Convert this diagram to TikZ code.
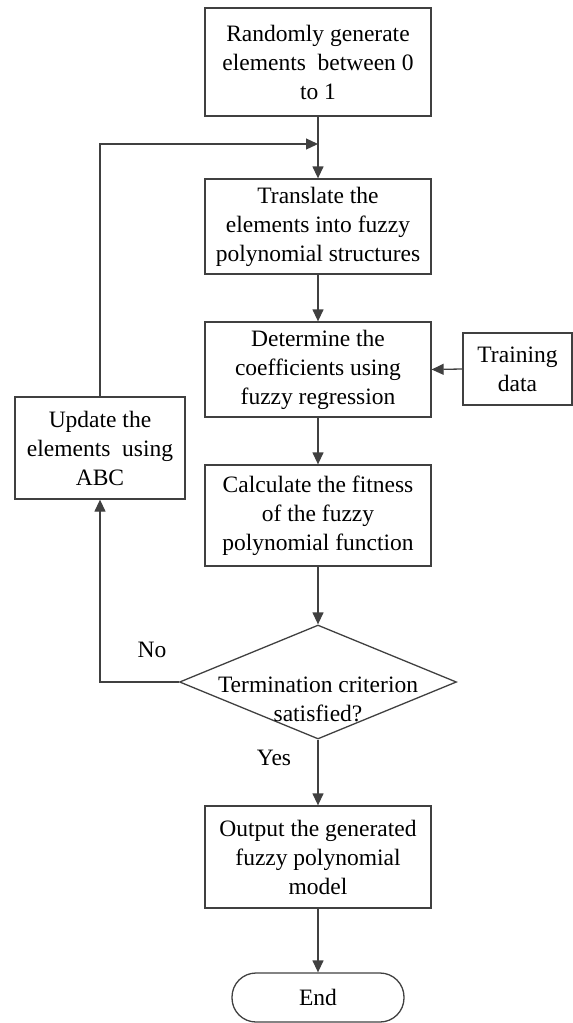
\documentclass[tikz,border=0pt]{standalone}
\usepackage{fontspec}
\setmainfont{Liberation Serif}
\usetikzlibrary{arrows.meta,shapes.geometric}
\begin{document}
\begin{tikzpicture}[x=1pt,y=-1pt,
  font=\fontsize{23.5}{29}\selectfont,
  box/.style={draw=black!75, line width=1.3pt, rectangle, inner sep=0pt, align=center, text=black},
  conn/.style={draw=black!75, line width=1.3pt, -{Triangle[length=12pt,width=11pt]}},
  lbl/.style={inner sep=0pt, text=black},
]
\useasboundingbox (0,0) rectangle (573,1023);
\node[box, minimum width=226pt, minimum height=108pt] (b1) at (318,62) {Randomly generate\\elements\ \ between 0\\to 1};
\node[box, minimum width=226pt, minimum height=95pt] (b2) at (318,226.5) {Translate the\\elements into fuzzy\\polynomial structures};
\node[box, minimum width=226pt, minimum height=95pt] (b3) at (318,369.5) {Determine the\\coefficients using\\fuzzy regression};
\node[box, minimum width=109pt, minimum height=72pt] (train) at (517.5,369) {Training\\data};
\node[box, minimum width=226pt, minimum height=101pt] (b4) at (318,515.5) {Calculate the fitness\\of the fuzzy\\polynomial function};
\node[box, shape=diamond, minimum width=277pt, minimum height=114pt] (dec) at (318,682) {};
\node[lbl, align=center] (dectext) at (318,699) {Termination criterion\\satisfied?};
\node[box, minimum width=170pt, minimum height=102pt] (upd) at (100,448) {Update the\\elements\ \ using\\ABC};
\node[box, minimum width=226pt, minimum height=102pt] (out) at (318,857) {Output the generated\\fuzzy polynomial\\model};
\node[box, minimum width=172pt, minimum height=49pt, rounded corners=24pt] (end) at (318,997.5) {End};
\coordinate (merge) at (318,144);
\node[lbl] (no) at (152,650) {No};
\node[lbl] (yes) at (274,758) {Yes};

\draw[conn] (b1.south) -- (b2.north);
\draw[conn] (upd.north) |- (merge);
\draw[conn] (b2.south) -- (b3.north);
\draw[conn] (train.west) -- (b3.east);
\draw[conn] (b3.south) -- (b4.north);
\draw[conn] (b4.south) -- (dec.north);
\draw[conn] (dec.west) -| (upd.south);
\draw[conn] (dec.south) -- (out.north);
\draw[conn] (out.south) -- (end.north);
\end{tikzpicture}
\end{document}
